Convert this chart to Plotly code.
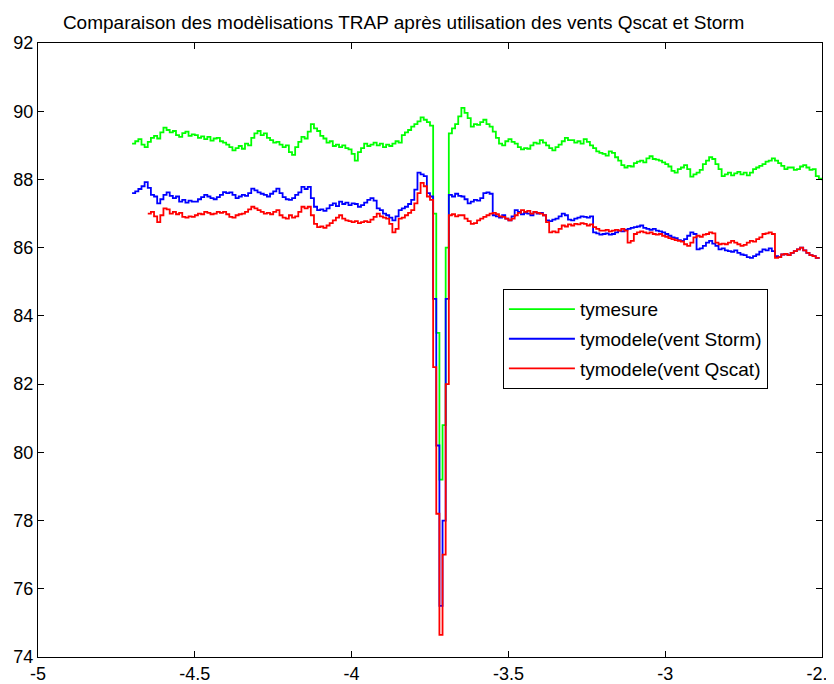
import plotly.graph_objects as go

# sampling grid (abscissa), step 0.01 from -4.70 to -2.50
x_values = [round(-4.70 + 0.01 * i, 2) for i in range(221)]

tymesure = [
    89.05, 89.12, 89.18, 89.02, 88.95, 89.10, 89.22, 89.28, 89.20, 89.38,
    89.52, 89.45, 89.38, 89.42, 89.30, 89.25, 89.36, 89.40, 89.28, 89.32,
    89.30, 89.22, 89.26, 89.18, 89.25, 89.14, 89.20, 89.22, 89.12, 89.08,
    89.02, 88.95, 88.85, 88.92, 88.98, 88.90, 89.05, 89.00, 89.22, 89.35,
    89.42, 89.30, 89.35, 89.22, 89.15, 89.08, 89.10, 89.02, 88.95, 89.00,
    88.80, 88.72, 88.95, 89.10, 89.25, 89.20, 89.40, 89.62, 89.50, 89.42,
    89.28, 89.20, 89.08, 89.12, 88.98, 89.02, 88.95, 89.00, 88.92, 88.88,
    88.75, 88.55, 88.80, 88.92, 89.05, 88.98, 89.02, 89.08, 89.00, 89.05,
    88.95, 89.02, 88.98, 89.05, 89.12, 89.08, 89.30, 89.38, 89.45, 89.55,
    89.62, 89.70, 89.82, 89.75, 89.68, 89.58, 87.00, 83.50, 79.20, 80.80,
    86.00, 89.35, 89.50, 89.62, 89.85, 90.10, 89.95, 89.80, 89.55, 89.62,
    89.60, 89.68, 89.75, 89.62, 89.55, 89.40, 89.22, 89.05, 89.00, 89.12,
    89.18, 89.10, 89.05, 88.95, 88.88, 88.92, 88.90, 89.00, 89.08, 89.05,
    89.15, 89.08, 89.00, 88.92, 88.85, 88.95, 89.02, 89.12, 89.22, 89.15,
    89.15, 89.08, 89.12, 89.05, 89.18, 89.10, 89.00, 88.92, 88.82, 88.78,
    88.75, 88.70, 88.82, 88.78, 88.65, 88.55, 88.42, 88.35, 88.40, 88.38,
    88.48, 88.52, 88.55, 88.50, 88.62, 88.68, 88.60, 88.58, 88.55, 88.50,
    88.45, 88.38, 88.25, 88.20, 88.30, 88.35, 88.42, 88.30, 88.08, 88.15,
    88.20, 88.28, 88.45, 88.55, 88.65, 88.60, 88.45, 88.30, 88.10, 88.15,
    88.20, 88.12, 88.18, 88.22, 88.15, 88.20, 88.12, 88.20, 88.30, 88.35,
    88.40, 88.45, 88.52, 88.55, 88.62, 88.55, 88.48, 88.40, 88.30, 88.35,
    88.35, 88.28, 88.30, 88.38, 88.42, 88.35, 88.28, 88.30, 88.10, 88.02,
    87.98,
]

tymodele_storm = [
    87.60, 87.65, 87.72, 87.80, 87.92, 87.75, 87.55, 87.50, 87.30, 87.42,
    87.55, 87.62, 87.52, 87.45, 87.50, 87.35, 87.40, 87.32, 87.38, 87.35,
    87.35, 87.42, 87.48, 87.55, 87.50, 87.45, 87.42, 87.48, 87.55, 87.63,
    87.60, 87.62, 87.55, 87.45, 87.50, 87.55, 87.52, 87.60, 87.73, 87.68,
    87.62, 87.58, 87.55, 87.50, 87.58, 87.65, 87.73, 87.60, 87.48, 87.42,
    87.40, 87.45, 87.55, 87.62, 87.78, 87.72, 87.78, 87.45, 87.20, 87.10,
    87.12, 87.08, 87.15, 87.25, 87.30, 87.22, 87.35, 87.28, 87.32, 87.25,
    87.30, 87.28, 87.20, 87.25, 87.32, 87.40, 87.45, 87.38, 87.15, 87.10,
    87.00, 86.95, 86.88, 86.80, 86.92, 87.10, 87.15, 87.20, 87.28, 87.40,
    87.70, 88.20, 88.15, 88.10, 87.60, 87.50, 84.50, 80.20, 75.50, 78.00,
    84.50, 87.55, 87.50, 87.58, 87.52, 87.50, 87.42, 87.30, 87.35, 87.40,
    87.38, 87.45, 87.60, 87.62, 87.58, 86.95, 86.92, 86.88, 86.95, 86.85,
    86.80, 86.92, 87.10, 87.05, 86.98, 87.02, 87.00, 86.95, 87.05, 87.00,
    87.02, 86.95, 86.80, 86.78, 86.82, 86.85, 86.92, 87.00, 86.95, 86.82,
    86.80, 86.85, 86.88, 86.92, 86.90, 86.88, 86.92, 86.45, 86.42, 86.38,
    86.40, 86.42, 86.38, 86.40, 86.45, 86.50, 86.48, 86.52, 86.55, 86.58,
    86.60, 86.62, 86.65, 86.58, 86.55, 86.52, 86.55, 86.50, 86.48, 86.45,
    86.40, 86.35, 86.30, 86.28, 86.22, 86.20, 86.25, 86.35, 86.45, 86.40,
    85.95, 85.98, 86.05, 86.15, 86.20, 86.12, 86.05, 85.95, 85.98, 85.92,
    85.90, 85.88, 85.92, 85.85, 85.80, 85.78, 85.72, 85.70, 85.75, 85.80,
    85.88, 85.95, 85.92, 85.98, 85.90, 85.75, 85.72, 85.80, 85.82, 85.78,
    85.85, 85.90, 85.95, 86.00, 85.92, 85.85, 85.78, 85.75, 85.70, 85.72,
    None,
]

tymodele_qscat = [
    None, None, None, None, None, 87.00, 87.05, 86.92, 86.75, 86.95,
    87.15, 87.12, 87.00, 87.05, 86.98, 87.02, 86.90, 86.88, 86.92, 86.90,
    86.95, 87.00, 86.98, 87.05, 87.02, 86.98, 87.00, 87.05, 87.02, 87.05,
    86.98, 86.90, 86.88, 86.95, 86.98, 87.00, 87.05, 87.12, 87.20, 87.15,
    87.10, 87.05, 87.00, 87.02, 86.98, 87.05, 87.10, 86.95, 86.88, 86.85,
    86.95, 86.88, 86.92, 87.05, 87.20, 87.15, 87.20, 86.95, 86.70, 86.60,
    86.62, 86.58, 86.65, 86.72, 86.80, 86.88, 86.95, 86.85, 86.80, 86.78,
    86.75, 86.78, 86.72, 86.75, 86.78, 86.75, 86.82, 86.90, 87.00, 86.92,
    86.88, 86.85, 86.70, 86.45, 86.55, 86.85, 86.88, 86.95, 87.02, 87.10,
    87.30, 87.60, 87.90, 87.80, 87.50, 87.40, 82.50, 78.20, 74.65, 77.00,
    82.00, 86.95, 86.98, 86.92, 86.95, 86.95, 86.85, 86.78, 86.70, 86.72,
    86.80, 86.85, 86.90, 86.95, 87.00, 87.02, 86.98, 86.92, 86.90, 86.85,
    86.80, 86.85, 86.95, 87.02, 87.10, 87.05, 87.08, 87.00, 87.05, 87.02,
    87.00, 86.95, 86.75, 86.45, 86.48, 86.45, 86.55, 86.65, 86.62, 86.68,
    86.65, 86.70, 86.68, 86.72, 86.70, 86.65, 86.68, 86.60, 86.55, 86.50,
    86.50, 86.52, 86.48, 86.50, 86.52, 86.50, 86.55, 86.50, 86.15, 86.20,
    86.40, 86.45, 86.48, 86.45, 86.42, 86.45, 86.40, 86.38, 86.40, 86.35,
    86.32, 86.28, 86.25, 86.22, 86.20, 86.18, 86.10, 86.05, 86.15, 86.30,
    86.35, 86.32, 86.38, 86.40, 86.45, 86.42, 86.15, 86.10, 86.12, 86.10,
    86.15, 86.20, 86.15, 86.10, 86.05, 86.08, 86.15, 86.20, 86.18, 86.25,
    86.30, 86.40, 86.42, 86.45, 86.40, 85.70, 85.72, 85.80, 85.82, 85.78,
    85.85, 85.90, 85.95, 86.00, 85.92, 85.85, 85.78, 85.75, 85.70, 85.72,
    None,
]

x_ticks = [-5, -4.5, -4, -3.5, -3, -2.5]
x_tick_labels = ["-5", "-4.5", "-4", "-3.5", "-3", "-2.5"]
y_ticks = [74, 76, 78, 80, 82, 84, 86, 88, 90, 92]
y_tick_labels = ["74", "76", "78", "80", "82", "84", "86", "88", "90", "92"]

FONT = "Liberation Sans, Arial, sans-serif"

fig = go.Figure()
series = [
    ("tymesure", tymesure, "#00ff00"),
    ("tymodele(vent Storm)", tymodele_storm, "#0000ff"),
    ("tymodele(vent Qscat)", tymodele_qscat, "#ff0000"),
]
for i, (name, vals, col) in enumerate(series):
    fig.add_trace(go.Scatter(
        x=x_values, y=vals, mode="lines", name=name,
        line=dict(color=col, width=1.8, shape="hv"),
        legendgroup=f"g{i}",
    ))

axis_common = dict(
    showline=True, linecolor="black", linewidth=1, mirror="ticks",
    ticks="inside", ticklen=6, tickcolor="black", tickwidth=1,
    showgrid=False, zeroline=False,
    tickfont=dict(family=FONT, size=18, color="black"),
    ticklabeloverflow="allow",
)

fig.update_layout(
    width=826, height=676,
    margin=dict(l=30, r=12, t=35, b=27, autoexpand=False),
    paper_bgcolor="white", plot_bgcolor="white",
    title=dict(
        text="Comparaison des modèlisations TRAP après utilisation des vents Qscat et Storm",
        x=0.479, xref="container", xanchor="center",
        y=1 - 14 / 676, yanchor="middle",
        font=dict(family=FONT, size=19, color="black"),
    ),
    xaxis=dict(range=[-5, -2.5], tickvals=x_ticks, ticktext=x_tick_labels, **axis_common),
    yaxis=dict(range=[74, 92], tickvals=y_ticks, ticktext=y_tick_labels, **axis_common),
    legend=dict(
        x=0.593, y=0.599, xanchor="left", yanchor="top",
        bordercolor="black", borderwidth=1, bgcolor="white",
        font=dict(family=FONT, size=19, color="black"),
        tracegroupgap=2, itemwidth=66,
    ),
    showlegend=True,
)

fig.write_html("out.html")
